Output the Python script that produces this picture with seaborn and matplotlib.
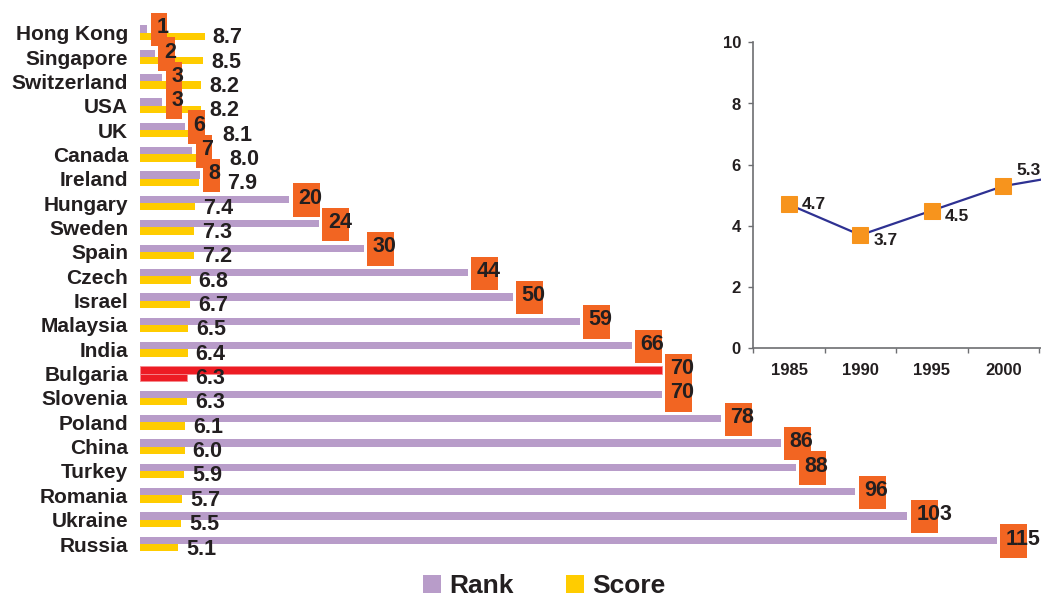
import matplotlib
matplotlib.use("Agg")
import matplotlib.pyplot as plt
from matplotlib.patches import Rectangle, Patch
import pandas as pd
import seaborn as sns

# ---- data -------------------------------------------------------------
countries = ["Hong Kong", "Singapore", "Switzerland", "USA", "UK", "Canada",
             "Ireland", "Hungary", "Sweden", "Spain", "Czech", "Israel",
             "Malaysia", "India", "Bulgaria", "Slovenia", "Poland", "China",
             "Turkey", "Romania", "Ukraine", "Russia"]
ranks = [1, 2, 3, 3, 6, 7, 8, 20, 24, 30, 44, 50, 59, 66, 70, 70, 78, 86,
         88, 96, 103, 115]
scores = [8.7, 8.5, 8.2, 8.2, 8.1, 8.0, 7.9, 7.4, 7.3, 7.2, 6.8, 6.7, 6.5,
          6.4, 6.3, 6.3, 6.1, 6.0, 5.9, 5.7, 5.5, 5.1]
highlight = "Bulgaria"
series_names = ["Rank", "Score"]

years = [1985, 1990, 1995, 2000, 2005]
trend = [4.7, 3.7, 4.5, 5.3, 5.7]

# ---- style ------------------------------------------------------------
PURPLE = "#B89CC9"
YELLOW = "#FFCC00"
RED = "#ED1C24"
BOX = "#F26522"
MARKER = "#F7941D"
NAVY = "#2E3192"
INK = "#231F20"
GRAY = "#6D6E71"

# extra horizontal push (px) for score labels that would sit on a rank box
score_nudge_px = [0, 0, 0, 0, 14, 22, 20] + [0] * 15
# vertical offsets (pt) of the trend value labels
trend_label_dy = [0, -3.6, -4.3, 11.5, 0]

W, H, DPI = 1041, 597, 100

sns.set_theme(style="ticks")
plt.rcParams["font.family"] = ["Liberation Sans", "DejaVu Sans"]
plt.rcParams["font.weight"] = "bold"
plt.rcParams["text.color"] = INK

fig = plt.figure(figsize=(W / DPI, H / DPI), dpi=DPI)

# ---- main horizontal bar chart ----------------------------------------
XMAX = 120.0
ax_w_px = 894.0
top_px, row_px = 32.7, 24.35
n = len(countries)
ax_top = top_px - 0.5 * row_px
ax_bot = top_px + (n - 0.5) * row_px
ax = fig.add_axes([140 / W, 1 - ax_bot / H, ax_w_px / W, (ax_bot - ax_top) / H])
ax.set_facecolor("none")

df = pd.DataFrame({
    "country": countries * 2,
    "series": [series_names[0]] * n + [series_names[1]] * n,
    "value": ranks + scores,
})
sns.barplot(data=df, y="country", x="value", hue="series", order=countries,
            hue_order=series_names, palette=[PURPLE, YELLOW], orient="h",
            width=0.6, dodge=True, gap=0, saturation=1, errorbar=None,
            legend=False, linewidth=0, ax=ax)

hi = countries.index(highlight)
for cont in ax.containers:
    cont[hi].set_facecolor(RED)
    cont[hi].set_edgecolor("#F58A8E")
    cont[hi].set_linewidth(0.6)

ax.set_xlim(0, XMAX)
ax.set_ylim(n - 0.5, -0.5)
ax.set_xlabel("")
ax.set_ylabel("")
ax.set_xticks([])
sns.despine(ax=ax, left=True, bottom=True)
ax.tick_params(axis="y", length=0, pad=8.6, labelsize=15, labelcolor=INK)
for lab in ax.get_yticklabels():
    lab.set_fontweight("bold")

px_x = XMAX / ax_w_px      # data units per pixel, x
px_y = 1.0 / row_px        # data units per pixel, y

for i, (r, s) in enumerate(zip(ranks, scores)):
    # rank badge
    digits = min(len(str(r)), 2)
    bw = 6 + 10.5 * digits
    bh = 33.4
    left = r + 3.5 * px_x
    yc = i - 3.0 * px_y
    ax.add_patch(Rectangle((left, yc - bh / 2 * px_y), bw * px_x, bh * px_y,
                           facecolor=BOX, edgecolor="none", zorder=3,
                           clip_on=False))
    ax.text(left + 5.5 * px_x, i - 5.0 * px_y, str(r), fontsize=15.5,
            fontweight="bold", color=INK, ha="left", va="center", zorder=4,
            clip_on=False)
    # score value
    ax.text(s + (8 + score_nudge_px[i]) * px_x, i + 5.0 * px_y, f"{s:.1f}",
            fontsize=15.5, fontweight="bold", color=INK, ha="left",
            va="center", zorder=4, clip_on=False)

# ---- inset trend line ---------------------------------------------------
in_left, in_bot, in_w, in_h = 753.3, 348.3, 357.0, 306.0
ax2 = fig.add_axes([in_left / W, 1 - in_bot / H, in_w / W, in_h / H])
ax2.set_facecolor("none")
sns.lineplot(x=years, y=trend, ax=ax2, color=NAVY, lw=1.6, marker="s",
             markersize=11, markerfacecolor=MARKER, markeredgecolor=MARKER,
             zorder=3, clip_on=False)
for yr, v, dy in zip(years, trend, trend_label_dy):
    ax2.annotate(f"{v:.1f}", (yr, v), xytext=(9.4, dy),
                 textcoords="offset points", ha="left", va="center",
                 fontsize=12.5, fontweight="bold", color=INK)

step = years[1] - years[0]
ax2.set_xlim(years[0] - step / 2, years[-1] + step / 2)
ax2.set_ylim(0, 10)
ax2.set_yticks(range(0, 11, 2))
ax2.set_xticks([years[0] - step / 2 + k * step for k in range(len(years) + 1)])
ax2.set_xticklabels([])
ax2.set_xticks(years, minor=True)
ax2.set_xticklabels([str(y) for y in years], minor=True)
ax2.set_xlabel("")
ax2.set_ylabel("")
for side in ("top", "right"):
    ax2.spines[side].set_visible(False)
for side in ("left", "bottom"):
    ax2.spines[side].set_color(GRAY)
    ax2.spines[side].set_linewidth(1.2)
ax2.tick_params(axis="y", which="major", length=3.5, width=1.0, color=GRAY,
                pad=5.4, labelsize=12, labelcolor=INK, left=True)
ax2.tick_params(axis="x", which="major", length=3.5, width=1.0, color=GRAY,
                bottom=True)
ax2.tick_params(axis="x", which="minor", length=0, pad=10.8, labelsize=12,
                labelcolor=INK)
for lab in ax2.get_yticklabels() + ax2.get_xticklabels(minor=True):
    lab.set_fontweight("bold")

# ---- legend -------------------------------------------------------------
handles = [Patch(facecolor=PURPLE, edgecolor="none"),
           Patch(facecolor=YELLOW, edgecolor="none")]
fig.legend(handles, series_names, loc="center", bbox_to_anchor=(0.523, 0.018),
           ncol=2, frameon=False, prop={"weight": "bold", "size": 19},
           handlelength=0.68, handleheight=0.68, handletextpad=0.3,
           columnspacing=2.0, borderpad=0, borderaxespad=0)

fig.savefig("out.png", dpi=DPI)
